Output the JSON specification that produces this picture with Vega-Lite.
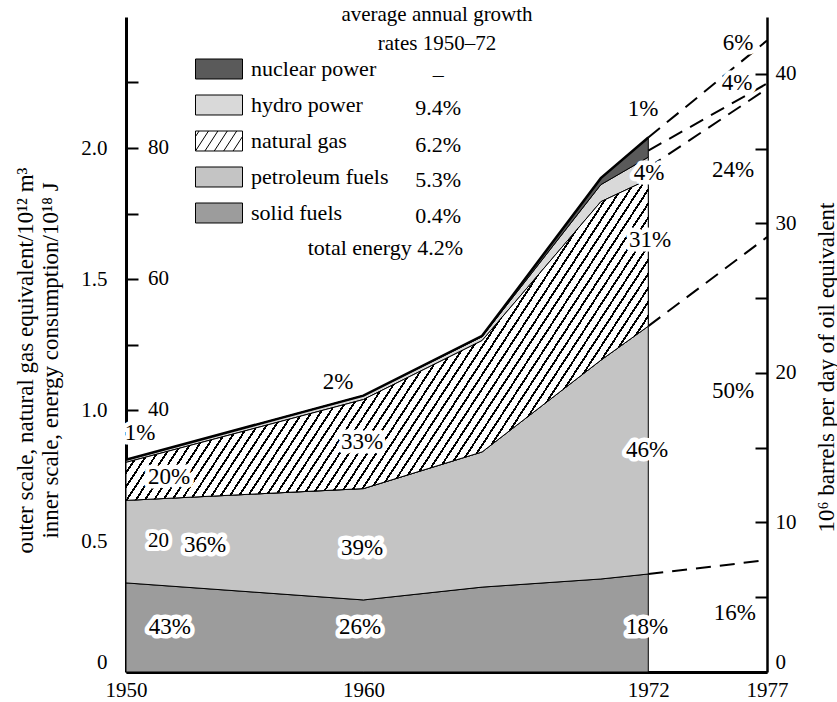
{
  "$schema": "https://vega.github.io/schema/vega-lite/v6.json",
  "width": 641,
  "height": 655,
  "autosize": {"type": "none"},
  "padding": {"left": 126, "top": 17, "right": 70, "bottom": 30},
  "background": "white",
  "config": {
    "view": {"stroke": null},
    "font": "Liberation Serif",
    "axis": {"grid": false, "labelFont": "Liberation Serif", "titleFont": "Liberation Serif", "labelColor": "black", "titleColor": "black", "domainColor": "black", "tickColor": "black", "titleFontWeight": "normal"},
    "text": {"font": "Liberation Serif"}
  },
  "datasets": {
    "energy": [
      {"year": 1950, "solid fuels": 0.34, "petroleum fuels": 0.315, "natural gas": 0.145, "hydro power": 0.01, "nuclear power": 0},
      {"year": 1960, "solid fuels": 0.275, "petroleum fuels": 0.425, "natural gas": 0.34, "hydro power": 0.015, "nuclear power": 0},
      {"year": 1965, "solid fuels": 0.324, "petroleum fuels": 0.516, "natural gas": 0.425, "hydro power": 0.015, "nuclear power": 0.003},
      {"year": 1970, "solid fuels": 0.355, "petroleum fuels": 0.835, "natural gas": 0.605, "hydro power": 0.065, "nuclear power": 0.025},
      {"year": 1972, "solid fuels": 0.374, "petroleum fuels": 0.946, "natural gas": 0.56, "hydro power": 0.085, "nuclear power": 0.075}
    ],
    "proj": [
      {"line": "solid", "year": 1972, "value": 0.374}, {"line": "solid", "year": 1977, "value": 0.427},
      {"line": "petroleum", "year": 1972, "value": 1.32}, {"line": "petroleum", "year": 1977, "value": 1.66},
      {"line": "gas", "year": 1972, "value": 1.925}, {"line": "gas", "year": 1977, "value": 2.226},
      {"line": "hydro", "year": 1972, "value": 1.99}, {"line": "hydro", "year": 1977, "value": 2.246},
      {"line": "total", "year": 1972, "value": 2.04}, {"line": "total", "year": 1977, "value": 2.41}
    ],
    "labels": [
      {"label": "1%", "year": 1950.59, "value": 0.912},
      {"label": "20%", "year": 1951.81, "value": 0.744},
      {"label": "36%", "year": 1953.33, "value": 0.485},
      {"label": "43%", "year": 1951.85, "value": 0.172},
      {"label": "2%", "year": 1958.93, "value": 1.107},
      {"label": "33%", "year": 1959.94, "value": 0.878},
      {"label": "39%", "year": 1959.94, "value": 0.473},
      {"label": "26%", "year": 1959.86, "value": 0.172},
      {"label": "1%", "year": 1971.78, "value": 2.149},
      {"label": "4%", "year": 1972.03, "value": 1.905},
      {"label": "31%", "year": 1972.07, "value": 1.649},
      {"label": "46%", "year": 1971.95, "value": 0.847},
      {"label": "18%", "year": 1971.95, "value": 0.172},
      {"label": "6%", "year": 1975.78, "value": 2.401},
      {"label": "4%", "year": 1975.74, "value": 2.248},
      {"label": "24%", "year": 1975.57, "value": 1.916},
      {"label": "50%", "year": 1975.57, "value": 1.073},
      {"label": "16%", "year": 1975.65, "value": 0.225}
    ],
    "inner": [
      {"label": "80", "value": 2}, {"label": "60", "value": 1.5}, {"label": "40", "value": 1}, {"label": "20", "value": 0.5}
    ],
    "rates": [
      {"label": "–", "value": 2.252}, {"label": "9.4%", "value": 2.126}, {"label": "6.2%", "value": 1.985}, {"label": "5.3%", "value": 1.851}, {"label": "0.4%", "value": 1.714}
    ],
    "header": [
      {"label": "average annual growth", "value": 2.485}, {"label": "rates 1950–72", "value": 2.374}
    ],
    "total": [
      {"label": "total energy 4.2%", "value": 1.592}
    ]
  },
  "layer": [
    {
      "layer": [
        {
          "data": {"name": "energy"},
          "transform": [
            {"fold": ["solid fuels", "petroleum fuels", "natural gas", "hydro power", "nuclear power"], "as": ["source", "amount"]},
            {"stack": "amount", "groupby": ["year"], "as": ["lo", "hi"]}
          ],
          "mark": {"type": "area", "stroke": "black", "strokeWidth": 1},
          "encoding": {
            "x": {"field": "year", "type": "quantitative", "scale": {"domain": [1950, 1977], "nice": false, "zero": false},
              "axis": {"values": [1950, 1960, 1972, 1977], "format": "d", "title": null, "ticks": false, "domainWidth": 3, "labelFontSize": 21, "labelPadding": 7, "labelFlush": false, "labelOverlap": false, "labelBound": false}},
            "y": {"field": "hi", "type": "quantitative", "scale": {"domain": [0, 2.5], "nice": false, "zero": true},
              "axis": {"orient": "left", "values": [0, 0.25, 0.5, 0.75, 1, 1.25, 1.5, 1.75, 2, 2.25],
                "labelExpr": "datum.value == 0 ? '0' : (datum.value * 2 == round(datum.value * 2) ? format(datum.value, '.1f') : '')",
                "tickSize": -12, "tickWidth": 2, "domainWidth": 3, "labelPadding": 31, "labelFontSize": 21, "labelFlush": true, "labelOverlap": false,
                "title": ["outer scale, natural gas equivalent/10¹² m³", "inner scale, energy consumption/10¹⁸ J"],
                "titleFontSize": 23, "titleLineHeight": 25, "titleAngle": -90, "titleAlign": "center", "titleBaseline": "middle", "titleX": -101, "titleY": 343}},
            "y2": {"field": "lo"},
            "color": {"field": "source", "type": "nominal",
              "scale": {"domain": ["nuclear power", "hydro power", "natural gas", "petroleum fuels", "solid fuels"], "range": ["#5a5a5a", "#d9d9d9", "#ffffff", "#c4c4c4", "#9c9c9c"]}
            }
          }
        },
        {
          "data": {"name": "energy"},
          "transform": [
            {"fold": ["solid fuels", "petroleum fuels", "natural gas", "hydro power", "nuclear power"], "as": ["source", "amount"]}
          ],
          "mark": {"type": "point", "filled": true, "opacity": 0, "stroke": "black", "strokeWidth": 1},
          "encoding": {
            "color": {"field": "source", "type": "nominal",
              "legend": {"orient": "none", "legendX": 69, "legendY": 34.35, "title": null,
                "symbolSize": 2209, "symbolStrokeColor": "black", "symbolStrokeWidth": 1, "symbolOpacity": 1,
                "clipHeight": 35.3, "rowPadding": 0, "labelOffset": 8, "labelFont": "Liberation Serif", "labelFontSize": 22, "labelColor": "black", "labelLimit": 400, "padding": 0, "offset": 0}
            },
            "shape": {"field": "source", "type": "nominal",
              "scale": {"domain": ["nuclear power", "hydro power", "natural gas", "petroleum fuels", "solid fuels"],
                "range": ["M-1,-0.425H1V0.425H-1Z", "M-1,-0.425H1V0.425H-1Z",
                  "M-1,-0.425H1V0.425H-1Z M-1,-0.19L-0.847,-0.425 M-1,0.425L-0.447,-0.425 M-0.6,0.425L-0.047,-0.425 M-0.2,0.425L0.353,-0.425 M0.2,0.425L0.753,-0.425 M0.6,0.425L1,-0.19",
                  "M-1,-0.425H1V0.425H-1Z", "M-1,-0.425H1V0.425H-1Z"]},
              "legend": {"orient": "none", "legendX": 69, "legendY": 34.35, "title": null,
                "symbolSize": 2209, "symbolStrokeColor": "black", "symbolStrokeWidth": 1, "symbolOpacity": 1,
                "clipHeight": 35.3, "rowPadding": 0, "labelOffset": 8, "labelFont": "Liberation Serif", "labelFontSize": 22, "labelColor": "black", "labelLimit": 400, "padding": 0, "offset": 0}
            }
          }
        },
        {
          "data": {"name": "energy"},
          "transform": [
            {"fold": ["solid fuels", "petroleum fuels", "natural gas", "hydro power", "nuclear power"], "as": ["source", "amount"]},
            {"stack": "amount", "groupby": ["year"], "as": ["lo", "hi"]},
            {"filter": {"field": "source", "equal": "natural gas"}}
          ],
          "mark": {"type": "area", "stroke": "black", "strokeWidth": 1, "fill": {"gradient": "linear", "x1": 0, "y1": 0, "x2": 1.2069, "y2": 0.482, "stops": [
            {"offset": 0, "color": "#fff"}, {"offset": 0.0094, "color": "#fff"}, {"offset": 0.0094, "color": "#000"}, {"offset": 0.0125, "color": "#000"},
            {"offset": 0.0125, "color": "#fff"}, {"offset": 0.0219, "color": "#fff"}, {"offset": 0.0219, "color": "#000"}, {"offset": 0.025, "color": "#000"},
            {"offset": 0.025, "color": "#fff"}, {"offset": 0.0344, "color": "#fff"}, {"offset": 0.0344, "color": "#000"}, {"offset": 0.0375, "color": "#000"},
            {"offset": 0.0375, "color": "#fff"}, {"offset": 0.0469, "color": "#fff"}, {"offset": 0.0469, "color": "#000"}, {"offset": 0.05, "color": "#000"},
            {"offset": 0.05, "color": "#fff"}, {"offset": 0.0594, "color": "#fff"}, {"offset": 0.0594, "color": "#000"}, {"offset": 0.0625, "color": "#000"},
            {"offset": 0.0625, "color": "#fff"}, {"offset": 0.0719, "color": "#fff"}, {"offset": 0.0719, "color": "#000"}, {"offset": 0.075, "color": "#000"},
            {"offset": 0.075, "color": "#fff"}, {"offset": 0.0844, "color": "#fff"}, {"offset": 0.0844, "color": "#000"}, {"offset": 0.0875, "color": "#000"},
            {"offset": 0.0875, "color": "#fff"}, {"offset": 0.0969, "color": "#fff"}, {"offset": 0.0969, "color": "#000"}, {"offset": 0.1, "color": "#000"},
            {"offset": 0.1, "color": "#fff"}, {"offset": 0.1094, "color": "#fff"}, {"offset": 0.1094, "color": "#000"}, {"offset": 0.1125, "color": "#000"},
            {"offset": 0.1125, "color": "#fff"}, {"offset": 0.1219, "color": "#fff"}, {"offset": 0.1219, "color": "#000"}, {"offset": 0.125, "color": "#000"},
            {"offset": 0.125, "color": "#fff"}, {"offset": 0.1344, "color": "#fff"}, {"offset": 0.1344, "color": "#000"}, {"offset": 0.1375, "color": "#000"},
            {"offset": 0.1375, "color": "#fff"}, {"offset": 0.1469, "color": "#fff"}, {"offset": 0.1469, "color": "#000"}, {"offset": 0.15, "color": "#000"},
            {"offset": 0.15, "color": "#fff"}, {"offset": 0.1594, "color": "#fff"}, {"offset": 0.1594, "color": "#000"}, {"offset": 0.1625, "color": "#000"},
            {"offset": 0.1625, "color": "#fff"}, {"offset": 0.1719, "color": "#fff"}, {"offset": 0.1719, "color": "#000"}, {"offset": 0.175, "color": "#000"},
            {"offset": 0.175, "color": "#fff"}, {"offset": 0.1844, "color": "#fff"}, {"offset": 0.1844, "color": "#000"}, {"offset": 0.1875, "color": "#000"},
            {"offset": 0.1875, "color": "#fff"}, {"offset": 0.1969, "color": "#fff"}, {"offset": 0.1969, "color": "#000"}, {"offset": 0.2, "color": "#000"},
            {"offset": 0.2, "color": "#fff"}, {"offset": 0.2094, "color": "#fff"}, {"offset": 0.2094, "color": "#000"}, {"offset": 0.2125, "color": "#000"},
            {"offset": 0.2125, "color": "#fff"}, {"offset": 0.2219, "color": "#fff"}, {"offset": 0.2219, "color": "#000"}, {"offset": 0.225, "color": "#000"},
            {"offset": 0.225, "color": "#fff"}, {"offset": 0.2344, "color": "#fff"}, {"offset": 0.2344, "color": "#000"}, {"offset": 0.2375, "color": "#000"},
            {"offset": 0.2375, "color": "#fff"}, {"offset": 0.2469, "color": "#fff"}, {"offset": 0.2469, "color": "#000"}, {"offset": 0.25, "color": "#000"},
            {"offset": 0.25, "color": "#fff"}, {"offset": 0.2594, "color": "#fff"}, {"offset": 0.2594, "color": "#000"}, {"offset": 0.2625, "color": "#000"},
            {"offset": 0.2625, "color": "#fff"}, {"offset": 0.2719, "color": "#fff"}, {"offset": 0.2719, "color": "#000"}, {"offset": 0.275, "color": "#000"},
            {"offset": 0.275, "color": "#fff"}, {"offset": 0.2844, "color": "#fff"}, {"offset": 0.2844, "color": "#000"}, {"offset": 0.2875, "color": "#000"},
            {"offset": 0.2875, "color": "#fff"}, {"offset": 0.2969, "color": "#fff"}, {"offset": 0.2969, "color": "#000"}, {"offset": 0.3, "color": "#000"},
            {"offset": 0.3, "color": "#fff"}, {"offset": 0.3094, "color": "#fff"}, {"offset": 0.3094, "color": "#000"}, {"offset": 0.3125, "color": "#000"},
            {"offset": 0.3125, "color": "#fff"}, {"offset": 0.3219, "color": "#fff"}, {"offset": 0.3219, "color": "#000"}, {"offset": 0.325, "color": "#000"},
            {"offset": 0.325, "color": "#fff"}, {"offset": 0.3344, "color": "#fff"}, {"offset": 0.3344, "color": "#000"}, {"offset": 0.3375, "color": "#000"},
            {"offset": 0.3375, "color": "#fff"}, {"offset": 0.3469, "color": "#fff"}, {"offset": 0.3469, "color": "#000"}, {"offset": 0.35, "color": "#000"},
            {"offset": 0.35, "color": "#fff"}, {"offset": 0.3594, "color": "#fff"}, {"offset": 0.3594, "color": "#000"}, {"offset": 0.3625, "color": "#000"},
            {"offset": 0.3625, "color": "#fff"}, {"offset": 0.3719, "color": "#fff"}, {"offset": 0.3719, "color": "#000"}, {"offset": 0.375, "color": "#000"},
            {"offset": 0.375, "color": "#fff"}, {"offset": 0.3844, "color": "#fff"}, {"offset": 0.3844, "color": "#000"}, {"offset": 0.3875, "color": "#000"},
            {"offset": 0.3875, "color": "#fff"}, {"offset": 0.3969, "color": "#fff"}, {"offset": 0.3969, "color": "#000"}, {"offset": 0.4, "color": "#000"},
            {"offset": 0.4, "color": "#fff"}, {"offset": 0.4094, "color": "#fff"}, {"offset": 0.4094, "color": "#000"}, {"offset": 0.4125, "color": "#000"},
            {"offset": 0.4125, "color": "#fff"}, {"offset": 0.4219, "color": "#fff"}, {"offset": 0.4219, "color": "#000"}, {"offset": 0.425, "color": "#000"},
            {"offset": 0.425, "color": "#fff"}, {"offset": 0.4344, "color": "#fff"}, {"offset": 0.4344, "color": "#000"}, {"offset": 0.4375, "color": "#000"},
            {"offset": 0.4375, "color": "#fff"}, {"offset": 0.4469, "color": "#fff"}, {"offset": 0.4469, "color": "#000"}, {"offset": 0.45, "color": "#000"},
            {"offset": 0.45, "color": "#fff"}, {"offset": 0.4594, "color": "#fff"}, {"offset": 0.4594, "color": "#000"}, {"offset": 0.4625, "color": "#000"},
            {"offset": 0.4625, "color": "#fff"}, {"offset": 0.4719, "color": "#fff"}, {"offset": 0.4719, "color": "#000"}, {"offset": 0.475, "color": "#000"},
            {"offset": 0.475, "color": "#fff"}, {"offset": 0.4844, "color": "#fff"}, {"offset": 0.4844, "color": "#000"}, {"offset": 0.4875, "color": "#000"},
            {"offset": 0.4875, "color": "#fff"}, {"offset": 0.4969, "color": "#fff"}, {"offset": 0.4969, "color": "#000"}, {"offset": 0.5, "color": "#000"},
            {"offset": 0.5, "color": "#fff"}, {"offset": 0.5094, "color": "#fff"}, {"offset": 0.5094, "color": "#000"}, {"offset": 0.5125, "color": "#000"},
            {"offset": 0.5125, "color": "#fff"}, {"offset": 0.5219, "color": "#fff"}, {"offset": 0.5219, "color": "#000"}, {"offset": 0.525, "color": "#000"},
            {"offset": 0.525, "color": "#fff"}, {"offset": 0.5344, "color": "#fff"}, {"offset": 0.5344, "color": "#000"}, {"offset": 0.5375, "color": "#000"},
            {"offset": 0.5375, "color": "#fff"}, {"offset": 0.5469, "color": "#fff"}, {"offset": 0.5469, "color": "#000"}, {"offset": 0.55, "color": "#000"},
            {"offset": 0.55, "color": "#fff"}, {"offset": 0.5594, "color": "#fff"}, {"offset": 0.5594, "color": "#000"}, {"offset": 0.5625, "color": "#000"},
            {"offset": 0.5625, "color": "#fff"}, {"offset": 0.5719, "color": "#fff"}, {"offset": 0.5719, "color": "#000"}, {"offset": 0.575, "color": "#000"},
            {"offset": 0.575, "color": "#fff"}, {"offset": 0.5844, "color": "#fff"}, {"offset": 0.5844, "color": "#000"}, {"offset": 0.5875, "color": "#000"},
            {"offset": 0.5875, "color": "#fff"}, {"offset": 0.5969, "color": "#fff"}, {"offset": 0.5969, "color": "#000"}, {"offset": 0.6, "color": "#000"},
            {"offset": 0.6, "color": "#fff"}, {"offset": 0.6094, "color": "#fff"}, {"offset": 0.6094, "color": "#000"}, {"offset": 0.6125, "color": "#000"},
            {"offset": 0.6125, "color": "#fff"}, {"offset": 0.6219, "color": "#fff"}, {"offset": 0.6219, "color": "#000"}, {"offset": 0.625, "color": "#000"},
            {"offset": 0.625, "color": "#fff"}, {"offset": 0.6344, "color": "#fff"}, {"offset": 0.6344, "color": "#000"}, {"offset": 0.6375, "color": "#000"},
            {"offset": 0.6375, "color": "#fff"}, {"offset": 0.6469, "color": "#fff"}, {"offset": 0.6469, "color": "#000"}, {"offset": 0.65, "color": "#000"},
            {"offset": 0.65, "color": "#fff"}, {"offset": 0.6594, "color": "#fff"}, {"offset": 0.6594, "color": "#000"}, {"offset": 0.6625, "color": "#000"},
            {"offset": 0.6625, "color": "#fff"}, {"offset": 0.6719, "color": "#fff"}, {"offset": 0.6719, "color": "#000"}, {"offset": 0.675, "color": "#000"},
            {"offset": 0.675, "color": "#fff"}, {"offset": 0.6844, "color": "#fff"}, {"offset": 0.6844, "color": "#000"}, {"offset": 0.6875, "color": "#000"},
            {"offset": 0.6875, "color": "#fff"}, {"offset": 0.6969, "color": "#fff"}, {"offset": 0.6969, "color": "#000"}, {"offset": 0.7, "color": "#000"},
            {"offset": 0.7, "color": "#fff"}, {"offset": 0.7094, "color": "#fff"}, {"offset": 0.7094, "color": "#000"}, {"offset": 0.7125, "color": "#000"},
            {"offset": 0.7125, "color": "#fff"}, {"offset": 0.7219, "color": "#fff"}, {"offset": 0.7219, "color": "#000"}, {"offset": 0.725, "color": "#000"},
            {"offset": 0.725, "color": "#fff"}, {"offset": 0.7344, "color": "#fff"}, {"offset": 0.7344, "color": "#000"}, {"offset": 0.7375, "color": "#000"},
            {"offset": 0.7375, "color": "#fff"}, {"offset": 0.7469, "color": "#fff"}, {"offset": 0.7469, "color": "#000"}, {"offset": 0.75, "color": "#000"},
            {"offset": 0.75, "color": "#fff"}, {"offset": 0.7594, "color": "#fff"}, {"offset": 0.7594, "color": "#000"}, {"offset": 0.7625, "color": "#000"},
            {"offset": 0.7625, "color": "#fff"}, {"offset": 0.7719, "color": "#fff"}, {"offset": 0.7719, "color": "#000"}, {"offset": 0.775, "color": "#000"},
            {"offset": 0.775, "color": "#fff"}, {"offset": 0.7844, "color": "#fff"}, {"offset": 0.7844, "color": "#000"}, {"offset": 0.7875, "color": "#000"},
            {"offset": 0.7875, "color": "#fff"}, {"offset": 0.7969, "color": "#fff"}, {"offset": 0.7969, "color": "#000"}, {"offset": 0.8, "color": "#000"},
            {"offset": 0.8, "color": "#fff"}, {"offset": 0.8094, "color": "#fff"}, {"offset": 0.8094, "color": "#000"}, {"offset": 0.8125, "color": "#000"},
            {"offset": 0.8125, "color": "#fff"}, {"offset": 0.8219, "color": "#fff"}, {"offset": 0.8219, "color": "#000"}, {"offset": 0.825, "color": "#000"},
            {"offset": 0.825, "color": "#fff"}, {"offset": 0.8344, "color": "#fff"}, {"offset": 0.8344, "color": "#000"}, {"offset": 0.8375, "color": "#000"},
            {"offset": 0.8375, "color": "#fff"}, {"offset": 0.8469, "color": "#fff"}, {"offset": 0.8469, "color": "#000"}, {"offset": 0.85, "color": "#000"},
            {"offset": 0.85, "color": "#fff"}, {"offset": 0.8594, "color": "#fff"}, {"offset": 0.8594, "color": "#000"}, {"offset": 0.8625, "color": "#000"},
            {"offset": 0.8625, "color": "#fff"}, {"offset": 0.8719, "color": "#fff"}, {"offset": 0.8719, "color": "#000"}, {"offset": 0.875, "color": "#000"},
            {"offset": 0.875, "color": "#fff"}, {"offset": 0.8844, "color": "#fff"}, {"offset": 0.8844, "color": "#000"}, {"offset": 0.8875, "color": "#000"},
            {"offset": 0.8875, "color": "#fff"}, {"offset": 0.8969, "color": "#fff"}, {"offset": 0.8969, "color": "#000"}, {"offset": 0.9, "color": "#000"},
            {"offset": 0.9, "color": "#fff"}, {"offset": 0.9094, "color": "#fff"}, {"offset": 0.9094, "color": "#000"}, {"offset": 0.9125, "color": "#000"},
            {"offset": 0.9125, "color": "#fff"}, {"offset": 0.9219, "color": "#fff"}, {"offset": 0.9219, "color": "#000"}, {"offset": 0.925, "color": "#000"},
            {"offset": 0.925, "color": "#fff"}, {"offset": 0.9344, "color": "#fff"}, {"offset": 0.9344, "color": "#000"}, {"offset": 0.9375, "color": "#000"},
            {"offset": 0.9375, "color": "#fff"}, {"offset": 0.9469, "color": "#fff"}, {"offset": 0.9469, "color": "#000"}, {"offset": 0.95, "color": "#000"},
            {"offset": 0.95, "color": "#fff"}, {"offset": 0.9594, "color": "#fff"}, {"offset": 0.9594, "color": "#000"}, {"offset": 0.9625, "color": "#000"},
            {"offset": 0.9625, "color": "#fff"}, {"offset": 0.9719, "color": "#fff"}, {"offset": 0.9719, "color": "#000"}, {"offset": 0.975, "color": "#000"},
            {"offset": 0.975, "color": "#fff"}, {"offset": 0.9844, "color": "#fff"}, {"offset": 0.9844, "color": "#000"}, {"offset": 0.9875, "color": "#000"},
            {"offset": 0.9875, "color": "#fff"}, {"offset": 0.9969, "color": "#fff"}, {"offset": 0.9969, "color": "#000"}, {"offset": 1, "color": "#000"}
          ]}},
          "encoding": {
            "x": {"field": "year", "type": "quantitative"},
            "y": {"field": "hi", "type": "quantitative"},
            "y2": {"field": "lo"}
          }
        },
        {
          "data": {"name": "energy"},
          "transform": [
            {"fold": ["solid fuels", "petroleum fuels", "natural gas", "hydro power", "nuclear power"], "as": ["source", "amount"]},
            {"stack": "amount", "groupby": ["year"], "as": ["lo", "hi"]},
            {"filter": {"field": "source", "equal": "nuclear power"}}
          ],
          "mark": {"type": "line", "color": "black", "strokeWidth": 2.5},
          "encoding": {
            "x": {"field": "year", "type": "quantitative"},
            "y": {"field": "hi", "type": "quantitative"}
          }
        },
        {
          "data": {"name": "proj"},
          "mark": {"type": "line", "color": "black", "strokeWidth": 2, "strokeDash": [15, 9]},
          "encoding": {
            "x": {"field": "year", "type": "quantitative"},
            "y": {"field": "value", "type": "quantitative"},
            "detail": {"field": "line"}
          }
        },
        {
          "data": {"name": "labels"},
          "mark": {"type": "text", "fontSize": 23, "fill": "white", "stroke": "white", "strokeWidth": 9, "strokeJoin": "round", "baseline": "middle", "align": "center"},
          "encoding": {
            "x": {"field": "year", "type": "quantitative"},
            "y": {"field": "value", "type": "quantitative"},
            "text": {"field": "label"}
          }
        },
        {
          "data": {"name": "labels"},
          "mark": {"type": "text", "fontSize": 23, "fill": "black", "baseline": "middle", "align": "center"},
          "encoding": {
            "x": {"field": "year", "type": "quantitative"},
            "y": {"field": "value", "type": "quantitative"},
            "text": {"field": "label"}
          }
        },
        {
          "data": {"name": "inner"},
          "mark": {"type": "text", "fontSize": 21, "fill": "white", "stroke": "white", "strokeWidth": 8, "strokeJoin": "round", "baseline": "middle", "align": "left", "dx": 22},
          "encoding": {
            "x": {"datum": 1950, "type": "quantitative"},
            "y": {"field": "value", "type": "quantitative"},
            "text": {"field": "label"}
          }
        },
        {
          "data": {"name": "inner"},
          "mark": {"type": "text", "fontSize": 21, "fill": "black", "baseline": "middle", "align": "left", "dx": 22},
          "encoding": {
            "x": {"datum": 1950, "type": "quantitative"},
            "y": {"field": "value", "type": "quantitative"},
            "text": {"field": "label"}
          }
        },
        {
          "data": {"name": "rates"},
          "mark": {"type": "text", "fontSize": 22, "fill": "black", "baseline": "alphabetic", "align": "center"},
          "encoding": {
            "x": {"datum": 1963.15, "type": "quantitative"},
            "y": {"field": "value", "type": "quantitative"},
            "text": {"field": "label"}
          }
        },
        {
          "data": {"name": "header"},
          "mark": {"type": "text", "fontSize": 21, "fill": "black", "baseline": "alphabetic", "align": "center"},
          "encoding": {
            "x": {"datum": 1963.1, "type": "quantitative"},
            "y": {"field": "value", "type": "quantitative"},
            "text": {"field": "label"}
          }
        },
        {
          "data": {"name": "total"},
          "mark": {"type": "text", "fontSize": 22, "fill": "black", "baseline": "alphabetic", "align": "right"},
          "encoding": {
            "x": {"datum": 1964.2, "type": "quantitative"},
            "y": {"field": "value", "type": "quantitative"},
            "text": {"field": "label"}
          }
        }
      ]
    },
    {
      "data": {"values": [{"b": 0}, {"b": 40}]},
      "mark": {"type": "point", "opacity": 0},
      "encoding": {
        "y": {"field": "b", "type": "quantitative", "scale": {"domain": [0, 43.8], "nice": false, "zero": true},
          "axis": {"orient": "right", "values": [0, 5, 10, 15, 20, 25, 30, 35, 40],
            "labelExpr": "datum.value % 10 == 0 ? datum.label : ''",
            "tickSize": -12, "tickWidth": 2, "domainWidth": 2.5, "labelPadding": 20, "labelFontSize": 21, "labelFlush": true, "labelOverlap": false,
            "title": "10⁶ barrels per day of oil equivalent", "titleFontSize": 23, "titleAngle": -90, "titleAlign": "center", "titleBaseline": "middle", "titleX": 59, "titleY": 350}}
      }
    }
  ],
  "resolve": {"scale": {"y": "independent"}, "axis": {"y": "independent"}}
}
